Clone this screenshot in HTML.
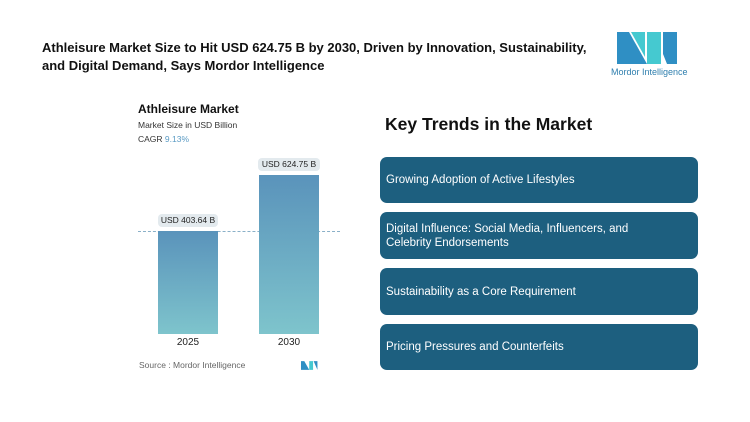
<!DOCTYPE html>
<html><head><style>
body{margin:0;width:750px;height:422px;background:#fff;font-family:"Liberation Sans",sans-serif;position:relative;overflow:hidden}
.a{position:absolute}
.box{position:absolute;left:380px;width:318px;background:#1d5f7f;border-radius:7px;color:#fff;font-size:11.5px;line-height:14px;display:flex;align-items:center;padding-left:6px;padding-right:40px;box-sizing:border-box}
.lab{position:absolute;background:#e3eaee;border-radius:4px;font-size:8.5px;color:#222;text-align:center;height:13px;line-height:13px}
</style></head><body>
<div class="a" style="left:42px;top:39px;font-size:13px;font-weight:bold;line-height:18px;color:#111;width:560px">Athleisure Market Size to Hit USD 624.75 B by 2030, Driven by Innovation, Sustainability, and Digital Demand, Says Mordor Intelligence</div>
<svg class="a" style="left:617px;top:32px" width="62" height="32" viewBox="0 0 62 32">
<polygon points="0,0 12,0 30,32 0,32" fill="#2f8fc4"/>
<polygon points="14,0 28,0 28,25" fill="#45c9d0"/>
<polygon points="30,0 44,0 44,32 30,32" fill="#45c9d0"/>
<polygon points="46,0 60,0 60,32 50,32 46,22" fill="#2f8fc4"/>
</svg>
<div class="a" style="left:611px;top:67px;font-size:9px;color:#2f7fae">Mordor Intelligence</div>
<div class="a" style="left:138px;top:102px;font-size:12px;font-weight:bold;color:#111">Athleisure Market</div>
<div class="a" style="left:138px;top:120px;font-size:8.5px;color:#333">Market Size in USD Billion</div>
<div class="a" style="left:138px;top:134px;font-size:8.5px;color:#333">CAGR <span style="color:#5b9bc4">9.13%</span></div>
<div class="a" style="left:138px;top:231px;width:202px;border-top:1px dashed #8ab0c8"></div>
<div class="a" style="left:158px;top:231px;width:60px;height:103px;background:linear-gradient(#5a93bb,#7ec4cc)"></div>
<div class="a" style="left:259px;top:175px;width:60px;height:159px;background:linear-gradient(#5a93bb,#7ec4cc)"></div>
<div class="lab" style="left:158px;top:214px;width:60px">USD 403.64 B</div>
<div class="lab" style="left:258px;top:158px;width:62px">USD 624.75 B</div>
<div class="a" style="left:158px;top:337px;width:60px;text-align:center;font-size:10px;color:#222">2025</div>
<div class="a" style="left:259px;top:337px;width:60px;text-align:center;font-size:10px;color:#222">2030</div>
<div class="a" style="left:139px;top:360px;font-size:8.5px;color:#666">Source :  Mordor Intelligence</div>
<svg class="a" style="left:301px;top:361px" width="17" height="9" viewBox="0 0 62 32"><polygon points="0,0 12,0 30,32 0,32" fill="#2f8fc4"/><polygon points="30,0 44,0 44,32 30,32" fill="#45c9d0"/><polygon points="46,0 60,0 60,32" fill="#2f8fc4"/></svg>
<div class="a" style="left:385px;top:114px;font-size:17.5px;font-weight:bold;color:#111">Key Trends in the Market</div>
<div class="box" style="top:157px;height:46px">Growing Adoption of Active Lifestyles</div>
<div class="box" style="top:212px;height:47px">Digital Influence: Social Media, Influencers, and Celebrity Endorsements</div>
<div class="box" style="top:268px;height:47px">Sustainability as a Core Requirement</div>
<div class="box" style="top:324px;height:46px">Pricing Pressures and Counterfeits</div>
</body></html>
